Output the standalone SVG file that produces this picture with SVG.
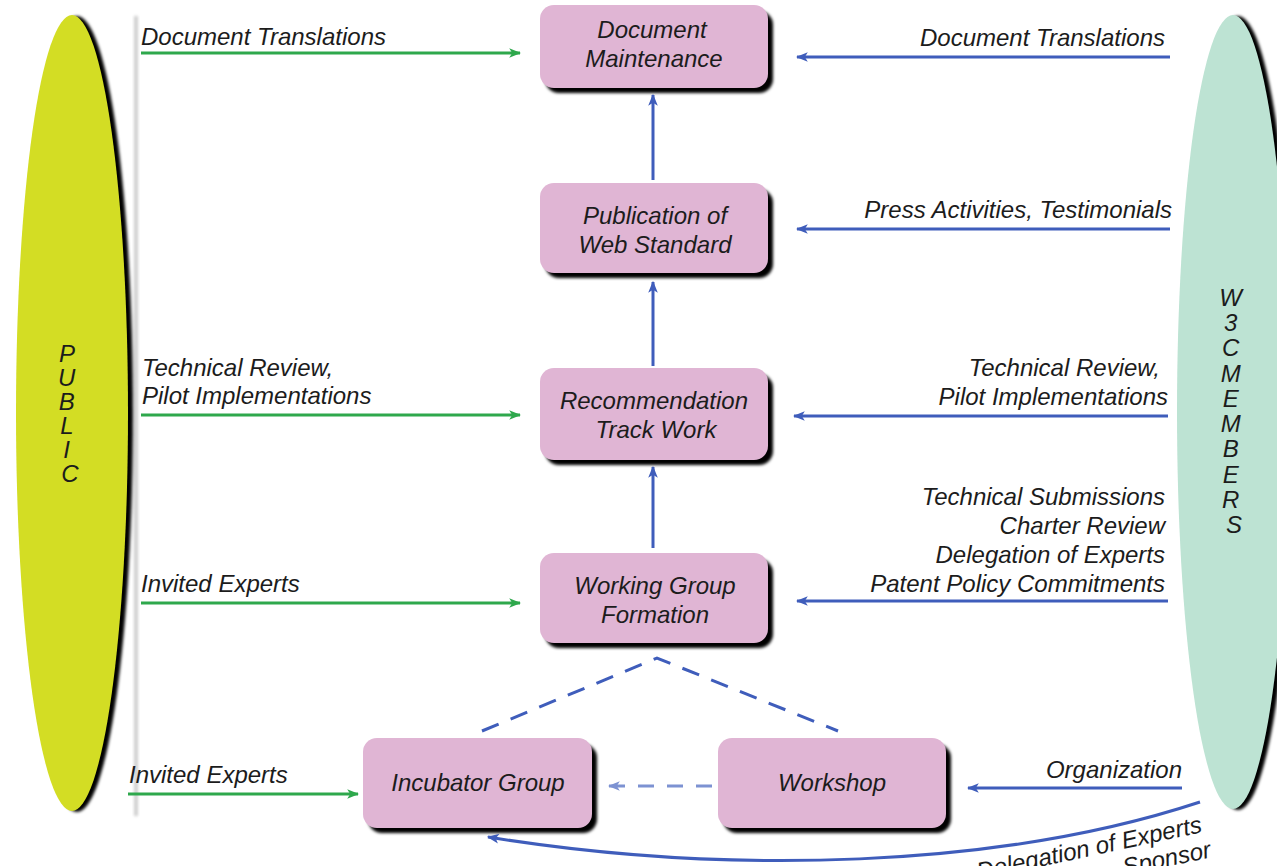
<svg xmlns="http://www.w3.org/2000/svg" width="1277" height="866" viewBox="0 0 1277 866">
  <style>
    .lbl { font-family: "Liberation Sans", Arial, sans-serif; font-style: italic; font-size: 24px; fill: #1c1c1c; }
    .box { fill: #e0b5d4; }
    .shd { fill: #000; filter: url(#blur); }
    .g { stroke: #2ea84c; stroke-width: 3; fill: none; marker-end: url(#ag); }
    .b { stroke: #3f5dbb; stroke-width: 3; fill: none; marker-end: url(#ab); }
    .d { stroke: #3f5dbb; stroke-width: 3; fill: none; stroke-dasharray: 18 13; }
  </style>
  <defs>
    <filter id="blur" x="-10%" y="-10%" width="120%" height="120%">
      <feGaussianBlur stdDeviation="1.6"/>
    </filter>
    <filter id="soft" x="-50%" y="-5%" width="200%" height="110%">
      <feGaussianBlur stdDeviation="1.5"/>
    </filter>
    <marker id="ag" viewBox="0 0 10 10" refX="9" refY="5" markerWidth="4" markerHeight="4" orient="auto" markerUnits="strokeWidth">
      <path d="M0,1 L10,5 L0,9 L2.5,5 Z" fill="#2ea84c"/>
    </marker>
    <marker id="ab" viewBox="0 0 10 10" refX="9" refY="5" markerWidth="4" markerHeight="4" orient="auto" markerUnits="strokeWidth">
      <path d="M0,1 L10,5 L0,9 L2.5,5 Z" fill="#3f5dbb"/>
    </marker>
    <marker id="al" viewBox="0 0 10 10" refX="9" refY="5" markerWidth="4" markerHeight="4" orient="auto" markerUnits="strokeWidth">
      <path d="M0,1 L10,5 L0,9 L2.5,5 Z" fill="#7d92d2"/>
    </marker>
  </defs>

  <rect width="1277" height="866" fill="#fff"/>

  <!-- side band -->
  <rect x="134" y="16" width="4" height="800" fill="#cfcfcf" filter="url(#soft)"/>

  <g id="public">
    <ellipse cx="77" cy="414" rx="56" ry="398" fill="#000" filter="url(#soft)"/>
    <ellipse cx="72" cy="413" rx="56" ry="398" fill="#d3dd24"/>
    <text class="lbl" font-size="21" text-anchor="middle">
      <tspan x="70" y="362">P</tspan>
      <tspan x="70" y="386">U</tspan>
      <tspan x="70" y="410">B</tspan>
      <tspan x="70" y="434">L</tspan>
      <tspan x="70" y="458">I</tspan>
      <tspan x="70" y="482">C</tspan>
    </text>
  </g>

  <g id="members">
    <ellipse cx="1238" cy="413" rx="56" ry="397" fill="#000" filter="url(#soft)"/>
    <ellipse cx="1233" cy="412" rx="56" ry="397" fill="#bde3d3"/>
    <text class="lbl" font-size="21" text-anchor="middle">
      <tspan x="1234" y="306">W</tspan>
      <tspan x="1234" y="331">3</tspan>
      <tspan x="1234" y="356">C</tspan>
      <tspan x="1234" y="382">M</tspan>
      <tspan x="1234" y="407">E</tspan>
      <tspan x="1234" y="432">M</tspan>
      <tspan x="1234" y="457">B</tspan>
      <tspan x="1234" y="483">E</tspan>
      <tspan x="1234" y="508">R</tspan>
      <tspan x="1234" y="533">S</tspan>
    </text>
  </g>

  <!-- process nodes -->
  <g id="doc-maintenance">
    <rect class="shd" x="545" y="11" width="228" height="82" rx="14"/>
    <rect class="box" x="540" y="5" width="228" height="83" rx="14"/>
    <text class="lbl" text-anchor="middle"><tspan x="652" y="38">Document</tspan><tspan x="654" y="67">Maintenance</tspan></text>
  </g>
  <g id="publication">
    <rect class="shd" x="545" y="189" width="228" height="89" rx="14"/>
    <rect class="box" x="540" y="183" width="228" height="90" rx="14"/>
    <text class="lbl" text-anchor="middle"><tspan x="655" y="224">Publication of</tspan><tspan x="655" y="253">Web Standard</tspan></text>
  </g>
  <g id="recommendation">
    <rect class="shd" x="545" y="374" width="228" height="91" rx="14"/>
    <rect class="box" x="540" y="368" width="228" height="92" rx="14"/>
    <text class="lbl" text-anchor="middle"><tspan x="654" y="409">Recommendation</tspan><tspan x="656" y="438">Track Work</tspan></text>
  </g>
  <g id="working-group">
    <rect class="shd" x="545" y="559" width="228" height="89" rx="14"/>
    <rect class="box" x="540" y="553" width="228" height="90" rx="14"/>
    <text class="lbl" text-anchor="middle"><tspan x="655" y="594">Working Group</tspan><tspan x="655" y="623">Formation</tspan></text>
  </g>
  <g id="incubator">
    <rect class="shd" x="368" y="744" width="229" height="89" rx="14"/>
    <rect class="box" x="363" y="738" width="229" height="90" rx="14"/>
    <text class="lbl" x="478" y="791" text-anchor="middle">Incubator Group</text>
  </g>
  <g id="workshop">
    <rect class="shd" x="723" y="744" width="228" height="89" rx="14"/>
    <rect class="box" x="718" y="738" width="228" height="90" rx="14"/>
    <text class="lbl" x="832" y="791" text-anchor="middle">Workshop</text>
  </g>

  <!-- connectors -->
  <g id="connectors">
    <line class="g" x1="141" y1="53" x2="520" y2="53"/>
    <line class="b" x1="1170" y1="57" x2="797" y2="57"/>
    <line class="b" x1="653" y1="180" x2="653" y2="95"/>
    <line class="b" x1="1170" y1="229" x2="797" y2="229"/>
    <line class="b" x1="653" y1="366" x2="653" y2="282"/>
    <line class="g" x1="141" y1="415" x2="520" y2="415"/>
    <line class="b" x1="1168" y1="416" x2="794" y2="416"/>
    <line class="b" x1="653" y1="548" x2="653" y2="467"/>
    <line class="g" x1="141" y1="603" x2="520" y2="603"/>
    <line class="b" x1="1168" y1="601" x2="797" y2="601"/>
    <path class="d" d="M482,731 L657,658 L838,731"/>
    <line x1="712" y1="786" x2="609" y2="786" stroke="#7d92d2" stroke-width="3" stroke-dasharray="16 13" marker-end="url(#al)"/>
    <line class="g" x1="128" y1="794" x2="358" y2="794"/>
    <line class="b" x1="1182" y1="788" x2="968" y2="788"/>
    <path class="b" d="M1200,802 C1000,868 730,876 488,837"/>
  </g>

  <!-- flow labels -->
  <g id="labels">
    <text class="lbl" x="141" y="45">Document Translations</text>
    <text class="lbl" x="1165" y="46" text-anchor="end">Document Translations</text>
    <text class="lbl" x="1172" y="218" text-anchor="end">Press Activities, Testimonials</text>
    <text class="lbl" x="142" y="376">Technical Review,</text>
    <text class="lbl" x="142" y="404">Pilot Implementations</text>
    <text class="lbl" x="1160" y="376" text-anchor="end">Technical Review,</text>
    <text class="lbl" x="1168" y="405" text-anchor="end">Pilot Implementations</text>
    <text class="lbl" x="1165" y="505" text-anchor="end">Technical Submissions</text>
    <text class="lbl" x="1165" y="534" text-anchor="end">Charter Review</text>
    <text class="lbl" x="1165" y="563" text-anchor="end">Delegation of Experts</text>
    <text class="lbl" x="1165" y="592" text-anchor="end">Patent Policy Commitments</text>
    <text class="lbl" x="141" y="592">Invited Experts</text>
    <text class="lbl" x="129" y="783">Invited Experts</text>
    <text class="lbl" x="1182" y="778" text-anchor="end">Organization</text>
    <text class="lbl" transform="translate(1203,832) rotate(-12)" text-anchor="end">Delegation of Experts</text>
    <text class="lbl" transform="translate(1212,857) rotate(-12)" text-anchor="end">Sponsor</text>
  </g>
</svg>
